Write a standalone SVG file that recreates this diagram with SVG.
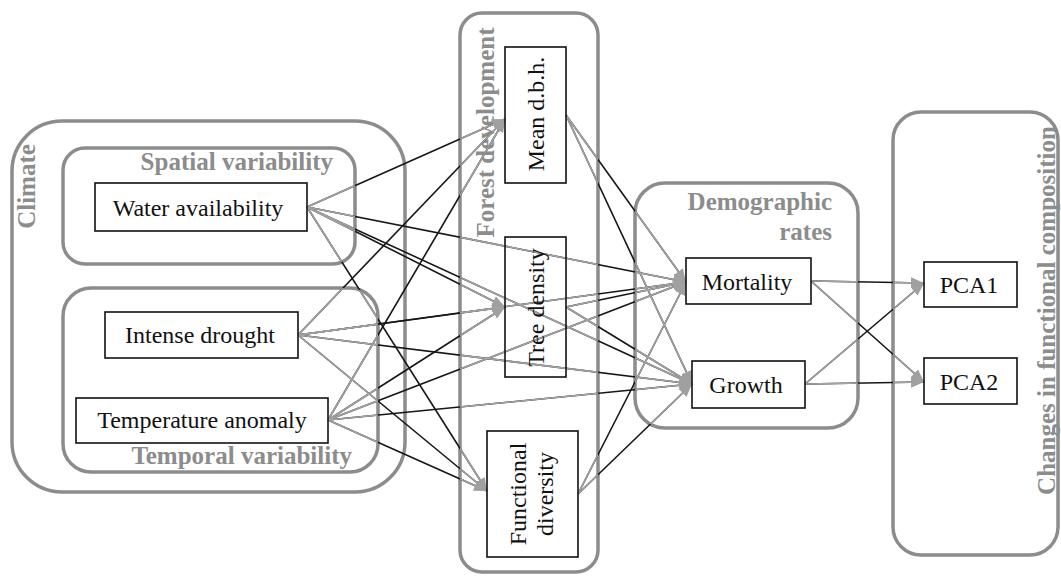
<svg xmlns="http://www.w3.org/2000/svg" xmlns:xlink="http://www.w3.org/1999/xlink" width="1061" height="576" viewBox="0 0 1061 576">
<style>
.grp{fill:none;stroke:#8c8c8c;stroke-width:3.5}
.node{fill:none;stroke:#111;stroke-width:1.6}
.glabel{font-family:'Liberation Serif','DejaVu Serif',serif;font-size:25px;font-weight:bold;fill:#8c8c8c}
.ntext{font-family:'Liberation Serif','DejaVu Serif',serif;font-size:24px;fill:#111;text-anchor:middle}
.dark{stroke:#161616;stroke-width:1.6;fill:none}
.light{stroke:#a3a3a3;stroke-width:1.6;fill:none;marker-end:url(#arrow)}
</style>
<defs>
<marker id="arrow" markerUnits="userSpaceOnUse" markerWidth="13" markerHeight="11" refX="13" refY="5.5" orient="auto">
<path d="M0,0 L13,5.5 L0,11 Z" fill="#a0a0a0"/>
</marker>
<clipPath id="inside">
<rect x="63" y="148" width="292" height="116" rx="22"/>
<rect x="63" y="288" width="315" height="184" rx="28"/>
<rect x="460" y="13" width="138" height="559" rx="22"/>
<rect x="635" y="183" width="223" height="245" rx="30"/>
<rect x="893" y="112" width="165" height="443" rx="28"/>
</clipPath>
<g id="edges">
<line x1="307" y1="207" x2="505" y2="119"/>
<line x1="307" y1="207" x2="505" y2="307"/>
<line x1="307" y1="207" x2="686" y2="282"/>
<line x1="307" y1="207" x2="692" y2="384"/>
<line x1="307" y1="207" x2="487" y2="491"/>
<line x1="298" y1="335" x2="505" y2="119"/>
<line x1="298" y1="335" x2="505" y2="307"/>
<line x1="298" y1="335" x2="686" y2="282"/>
<line x1="298" y1="335" x2="692" y2="384"/>
<line x1="298" y1="335" x2="487" y2="491"/>
<line x1="328" y1="420" x2="505" y2="119"/>
<line x1="328" y1="420" x2="505" y2="307"/>
<line x1="328" y1="420" x2="686" y2="282"/>
<line x1="328" y1="420" x2="692" y2="384"/>
<line x1="328" y1="420" x2="487" y2="491"/>
<line x1="566" y1="115" x2="686" y2="282"/>
<line x1="566" y1="115" x2="692" y2="384"/>
<line x1="566" y1="307" x2="686" y2="282"/>
<line x1="566" y1="307" x2="692" y2="384"/>
<line x1="578" y1="494" x2="686" y2="282"/>
<line x1="578" y1="494" x2="692" y2="384"/>
<line x1="811" y1="281" x2="924" y2="283"/>
<line x1="811" y1="281" x2="924" y2="382"/>
<line x1="805" y1="384" x2="924" y2="283"/>
<line x1="805" y1="384" x2="924" y2="382"/>
</g>
</defs>
<rect width="1061" height="576" fill="#fff"/>

<g id="climate">
<rect class="grp" x="12" y="121" width="393" height="371" rx="50"/>
<text class="glabel" transform="translate(35,186.5) rotate(-90)" text-anchor="middle">Climate</text>
</g>
<g id="spatial-variability">
<rect class="grp" x="63" y="148" width="292" height="116" rx="22"/>
<text class="glabel" x="333" y="170" text-anchor="end">Spatial variability</text>
</g>
<g id="temporal-variability">
<rect class="grp" x="63" y="288" width="315" height="184" rx="28"/>
<text class="glabel" x="352" y="464" text-anchor="end">Temporal variability</text>
</g>
<g id="forest-development">
<rect class="grp" x="460" y="13" width="138" height="559" rx="22"/>
<text class="glabel" transform="translate(494,132.5) rotate(-90)" text-anchor="middle">Forest development</text>
</g>
<g id="demographic-rates">
<rect class="grp" x="635" y="183" width="223" height="245" rx="30"/>
<text class="glabel" x="832" y="210" text-anchor="end">Demographic</text>
<text class="glabel" x="832" y="240" text-anchor="end">rates</text>
</g>
<g id="changes-functional-composition">
<rect class="grp" x="893" y="112" width="165" height="443" rx="28"/>
<text class="glabel" transform="translate(1055,310.5) rotate(-90)" text-anchor="middle">Changes in functional composition</text>
</g>

<g id="connectors">
<use xlink:href="#edges" class="dark"/>
<use xlink:href="#edges" class="light" clip-path="url(#inside)"/>
</g>

<g id="water-availability">
<rect class="node" x="95" y="183" width="212" height="48"/>
<text class="ntext" x="198" y="216">Water availability</text>
</g>
<g id="intense-drought">
<rect class="node" x="105" y="312" width="193" height="46"/>
<text class="ntext" x="200" y="343">Intense drought</text>
</g>
<g id="temperature-anomaly">
<rect class="node" x="76" y="398" width="252" height="45"/>
<text class="ntext" x="202" y="428">Temperature anomaly</text>
</g>
<g id="mean-dbh">
<rect class="node" x="505" y="47" width="61" height="136"/>
<text class="ntext" transform="translate(544,114) rotate(-90)">Mean d.b.h.</text>
</g>
<g id="tree-density">
<rect class="node" x="505" y="237" width="61" height="140"/>
<text class="ntext" transform="translate(544,307.5) rotate(-90)">Tree density</text>
</g>
<g id="functional-diversity">
<rect class="node" x="487" y="431" width="91" height="126"/>
<text class="ntext" transform="translate(526,494) rotate(-90)">Functional</text>
<text class="ntext" transform="translate(553,494) rotate(-90)">diversity</text>
</g>
<g id="mortality">
<rect class="node" x="686" y="258" width="125" height="46"/>
<text class="ntext" x="747" y="290">Mortality</text>
</g>
<g id="growth">
<rect class="node" x="692" y="361" width="113" height="47"/>
<text class="ntext" x="746" y="393">Growth</text>
</g>
<g id="pca1">
<rect class="node" x="924" y="262" width="93" height="45"/>
<text class="ntext" x="969" y="293">PCA1</text>
</g>
<g id="pca2">
<rect class="node" x="924" y="358" width="93" height="46"/>
<text class="ntext" x="969" y="390">PCA2</text>
</g>
</svg>
